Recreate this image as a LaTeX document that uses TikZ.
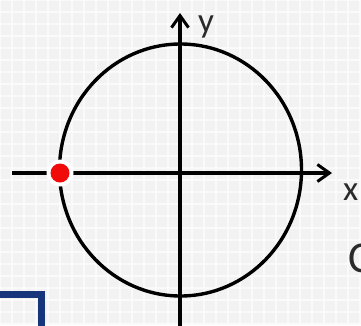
\documentclass[tikz,border=0pt]{standalone}
\usepackage{fontspec}
\setmainfont{Carlito}
\usetikzlibrary{arrows.meta}
\definecolor{bggray}{HTML}{F2F2F2}
\definecolor{gridc}{HTML}{FAFAFA}
\definecolor{navy}{HTML}{17357A}
\definecolor{dotred}{HTML}{F00A0A}
\definecolor{txt}{HTML}{2A2A2A}
\tikzset{
  axis/.style={line width=3.3pt, black, -{Straight Barb[length=12pt,width=17pt,line width=3pt]}},
  curve/.style={line width=3.4pt, black},
  lbl/.style={font=\fontsize{35}{37}\selectfont, text=txt, inner sep=0pt},
}
\begin{document}
\begin{tikzpicture}[x=1pt,y=-1pt]
\useasboundingbox (0,0) rectangle (361,325);
\fill[bggray] (0,0) rectangle (361,325);
\draw[gridc, line width=1.5pt] (0,0) grid[step=12pt] (361,325);
% circle
\draw[curve] (180.5,170) ellipse [x radius=121, y radius=126];
% axes
\coordinate (xs) at (12,173);
\coordinate (xe) at (332,173);
\coordinate (ys) at (180,330);
\coordinate (ye) at (180,13);
\draw[axis] (xs) -- (xe);
\draw[axis] (ys) -- (ye);
% red point
\fill[white] (60,173) circle (13.5);
\node[circle, fill=dotred, minimum size=19pt, inner sep=0pt] (p) at (60,173) {};
% labels
\node[lbl, anchor=base west] (ylab) at (198,32) {y};
\node[lbl, anchor=base west] (xlab) at (343,200) {x};
\node[lbl, font=\fontsize{44}{46}\selectfont, anchor=base west] (clab) at (348,272) {C};
% blue square corner
\draw[navy, line width=7pt] (-20,294) -- (41,294) -- (41,340);
\end{tikzpicture}
\end{document}
